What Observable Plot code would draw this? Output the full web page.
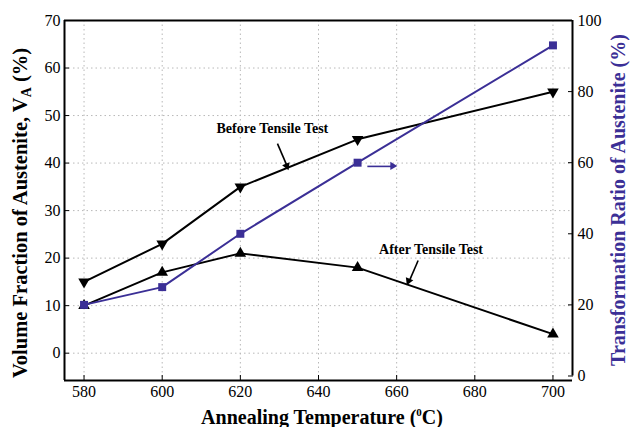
<!DOCTYPE html>
<html>
<head>
<meta charset="utf-8">
<script src="https://cdn.jsdelivr.net/npm/d3@7"></script>
<script src="https://cdn.jsdelivr.net/npm/@observablehq/plot@0.6"></script>
<style>
  html, body { margin: 0; padding: 0; background: #fff; }
  svg text { font-family: 'Liberation Serif', 'Times New Roman', serif !important; }
</style>
</head>
<body>
<div id="chart"></div>
<script>
// ---- data ----
const temps = [580, 600, 620, 650, 700];
const beforeVA = [15, 23, 35, 45, 55];      // Volume fraction before tensile test (left axis)
const afterVA = [10, 17, 21, 18, 4];        // Volume fraction after tensile test (left axis)
const ratio = [20, 25, 40, 60, 93];         // Transformation ratio (right axis)
const xTicks = [580, 600, 620, 640, 660, 680, 700];
const leftTicks = [0, 10, 20, 30, 40, 50, 60, 70];
const rightTicks = [0, 20, 40, 60, 80, 100];
const annotations = [
  {label: "Before Tensile Test", x: 628.2, y: 47.3},
  {label: "After Tensile Test", x: 668.8, y: 21.8}
];
const arrows = [
  {x1: 629.5, y1: 44.1, x2: 632.0, y2: 39.3, color: "black"},
  {x1: 665.5, y1: 19.5, x2: 663.2, y2: 15.1, color: "black"},
  {x1: 652.5, y1: 39.3, x2: 659.1, y2: 39.3, color: "blue"}
];

const BLUE = "#3b2f96";
const FONT = "'Liberation Serif', 'Times New Roman', serif";
const toLeft = r => -4.8 + r * 0.748;
const fromLeft = v => Math.round((v + 4.8) / 0.748);

const before = temps.map((t, i) => ({t, v: beforeVA[i]}));
const after = temps.map((t, i) => ({t, v: afterVA[i]}));
const trans = temps.map((t, i) => ({t, v: toLeft(ratio[i])}));

const xDom = [575, 705];
const yDom = [-5.75, 70];
const W = 631, H = 427, ML = 64, MR = 59, MT = 20, MB = 47;
const sx = (W - ML - MR) / (xDom[1] - xDom[0]);
const sy = (H - MT - MB) / (yDom[1] - yDom[0]);
// arrowhead orientation (degrees clockwise from up)
const heads = arrows.map(a => {
  const dx = (a.x2 - a.x1) * sx, dy = -(a.y2 - a.y1) * sy;
  return {x: a.x2, y: a.y2, color: a.color, rot: Math.atan2(dx, -dy) * 180 / Math.PI,
          ox: -dx / Math.hypot(dx, dy) * 2.5, oy: -dy / Math.hypot(dx, dy) * 2.5};
});

const chart = Plot.plot({
  width: W,
  height: H,
  marginLeft: ML,
  marginRight: MR,
  marginTop: MT,
  marginBottom: MB,
  x: {domain: xDom},
  y: {domain: yDom},
  style: {fontFamily: FONT, fontSize: "16px", background: "white", color: "black"},
  marks: [
    Plot.gridX(xTicks, {stroke: "#b8b8b8", strokeOpacity: 1, strokeDasharray: "1.5,3"}),
    Plot.gridY(leftTicks, {stroke: "#b8b8b8", strokeOpacity: 1, strokeDasharray: "1.5,3"}),
    Plot.axisX({ticks: xTicks, tickSize: -5, tickPadding: 10, label: null, fontSize: 16, fontFamily: FONT}),
    Plot.axisY({ticks: leftTicks, tickSize: -5, tickPadding: 9, label: null, fontSize: 16, fontFamily: FONT}),
    Plot.axisY({anchor: "right", ticks: rightTicks.map(toLeft), tickFormat: fromLeft, tickSize: -5, tickPadding: 10, label: null, fontSize: 16, fontFamily: FONT}),
    // frame lines
    Plot.ruleX([xDom[0]], {stroke: "black", strokeWidth: 2}),
    Plot.ruleY([yDom[1]], {stroke: "black", strokeWidth: 2}),
    Plot.ruleY([yDom[0]], {stroke: "black", strokeWidth: 2}),
    Plot.ruleX([xDom[1]], {y1: toLeft(0), y2: yDom[1], stroke: "black", strokeWidth: 2}),
    // series
    Plot.line(before, {x: "t", y: "v", stroke: "black", strokeWidth: 2}),
    Plot.line(after, {x: "t", y: "v", stroke: "black", strokeWidth: 2}),
    Plot.line(trans, {x: "t", y: "v", stroke: BLUE, strokeWidth: 2}),
    Plot.dot(before, {x: "t", y: "v", symbol: "triangle", r: 4.3, fill: "black", stroke: "none", rotate: 180}),
    Plot.dot(after, {x: "t", y: "v", symbol: "triangle", r: 4.3, fill: "black", stroke: "none"}),
    Plot.dot(trans, {x: "t", y: "v", symbol: "square", r: 4.5, fill: BLUE, stroke: "none"}),
    // annotations
    Plot.text(annotations, {x: "x", y: "y", text: "label", fontWeight: "bold", fontSize: 14, fill: "black", fontFamily: FONT}),
    Plot.link(arrows, {x1: "x1", y1: "y1", x2: "x2", y2: "y2", stroke: d => d.color === "blue" ? BLUE : "black", strokeWidth: 1.6}),
    Plot.dot(heads, {x: "x", y: "y", dx: d => d.ox, dy: d => d.oy, symbol: "triangle", r: 3, rotate: "rot", fill: d => d.color === "blue" ? BLUE : "black", stroke: "none"})
  ]
});

document.getElementById("chart").appendChild(chart);
d3.select(chart).selectAll("text").style("font-family", FONT).style("font-variant", "normal");

// axis titles
const svg = d3.select(chart);
const lt = svg.append("text")
  .attr("transform", "translate(27,213) rotate(-90)")
  .attr("text-anchor", "middle")
  .attr("font-family", FONT).attr("font-weight", "bold").attr("font-size", 20.5).attr("fill", "black");
lt.append("tspan").text("Volume Fraction of Austenite, V");
lt.append("tspan").attr("font-size", 14).attr("dy", 4).text("A");
lt.append("tspan").attr("dy", -4).text(" (%)");

svg.append("text")
  .attr("transform", "translate(625,200) rotate(-90)")
  .attr("text-anchor", "middle")
  .attr("font-family", FONT).attr("font-weight", "bold").attr("font-size", 20).attr("fill", BLUE)
  .text("Transformation Ratio of Austenite (%)");

const bt = svg.append("text")
  .attr("x", 322).attr("y", 424)
  .attr("text-anchor", "middle")
  .attr("font-family", FONT).attr("font-weight", "bold").attr("font-size", 20).attr("fill", "black");
bt.append("tspan").text("Annealing Temperature (");
bt.append("tspan").attr("font-size", 11).attr("dy", -8).text("0");
bt.append("tspan").attr("dy", 8).text("C)");
</script>
</body>
</html>
